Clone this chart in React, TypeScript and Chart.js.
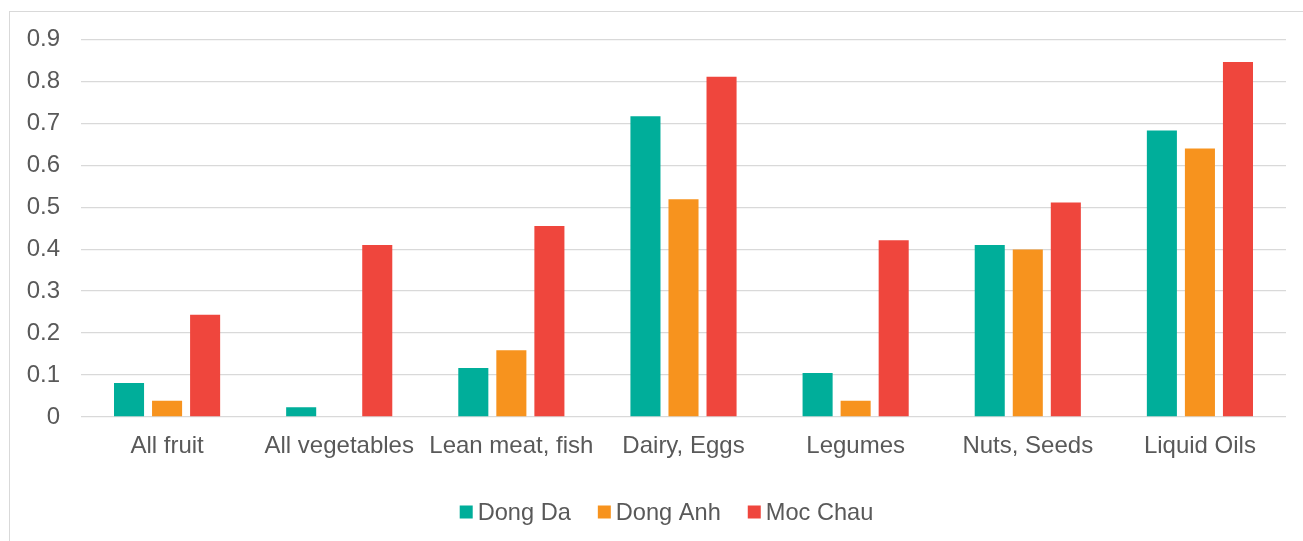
import React, { useEffect, useRef } from "react";
import { Chart, registerables } from "chart.js";

Chart.register(...registerables);

const categories = ["All fruit", "All vegetables", "Lean meat, fish", "Dairy, Eggs", "Legumes", "Nuts, Seeds", "Liquid Oils"];
const dongDa = [0.081, 0.023, 0.117, 0.717, 0.105, 0.41, 0.683];
const dongAnh = [0.039, 0, 0.159, 0.519, 0.039, 0.399, 0.64];
const mocChau = [0.244, 0.41, 0.455, 0.811, 0.421, 0.511, 0.846];
const seriesNames = ["Dong Da", "Dong Anh", "Moc Chau"];
const seriesColors = ["#00AE9A", "#F7931E", "#EF463D"];

const FONT_FAMILY = "'Liberation Sans', Arial, sans-serif";

const customLegend = {
  id: "customLegend",
  afterDraw(chart: any) {
    const ctx = chart.ctx;
    const area = chart.chartArea;
    const y = area.bottom + 95;
    const cx = 656.5;
    const box = 13;
    const gap = 5;
    const itemGap = 27;
    ctx.save();
    ctx.font = `23.6px ${FONT_FAMILY}`;
    ctx.textBaseline = "middle";
    ctx.textAlign = "left";
    const items = chart.data.datasets.map((ds: any) => ({
      text: ds.label,
      color: ds.backgroundColor,
      w: ctx.measureText(ds.label).width,
    }));
    let total = 0;
    items.forEach((it: any, i: number) => {
      total += box + gap + it.w + (i < items.length - 1 ? itemGap : 0);
    });
    let x = cx - total / 2;
    items.forEach((it: any) => {
      ctx.fillStyle = it.color;
      ctx.fillRect(x, y - box / 2, box, box);
      ctx.fillStyle = "#595959";
      ctx.fillText(it.text, x + box + gap, y + 1);
      x += box + gap + it.w + itemGap;
    });
    ctx.restore();
  },
};

export default function App() {
  const ref = useRef<HTMLCanvasElement | null>(null);
  useEffect(() => {
    if (!ref.current) return;
    const font = { family: FONT_FAMILY, size: 24 };
    const chart = new Chart(ref.current, {
      type: "bar",
      data: {
        labels: categories,
        datasets: [dongDa, dongAnh, mocChau].map((d, i) => ({
          label: seriesNames[i],
          data: d,
          backgroundColor: seriesColors[i],
          borderWidth: 0,
          categoryPercentage: 0.663,
          barPercentage: 0.79,
        })),
      },
      options: {
        animation: false,
        responsive: true,
        maintainAspectRatio: false,
        layout: { padding: { left: 0, right: 24, top: 19, bottom: 64 } },
        plugins: {
          tooltip: { enabled: false },
          legend: { display: false },
        },
        scales: {
          x: {
            grid: { display: false, drawTicks: false },
            border: { display: false },
            ticks: { font, color: "#595959", padding: 15, maxRotation: 0, autoSkip: false },
            afterFit: (s: any) => { s.height = 63; },
          },
          y: {
            min: 0,
            max: 0.9,
            grid: { color: "#d9d9d9", lineWidth: 1.3, drawTicks: false },
            border: { display: false },
            ticks: { stepSize: 0.1, font, color: "#595959", padding: 21, callback: (v: any) => String(Math.round(Number(v) * 10) / 10) },
            afterFit: (s: any) => { s.width = 71; },
          },
        },
      },
      plugins: [customLegend],
    });
    return () => chart.destroy();
  }, []);
  return (
    <div style={{ position: "fixed", left: 9, top: 11, width: 1300, height: 540, border: "1px solid #d9d9d9", background: "#fff" }}>
      <div style={{ position: "absolute", left: 0, top: -8, width: 1300, height: 540 }}>
        <canvas ref={ref} />
      </div>
    </div>
  );
}
